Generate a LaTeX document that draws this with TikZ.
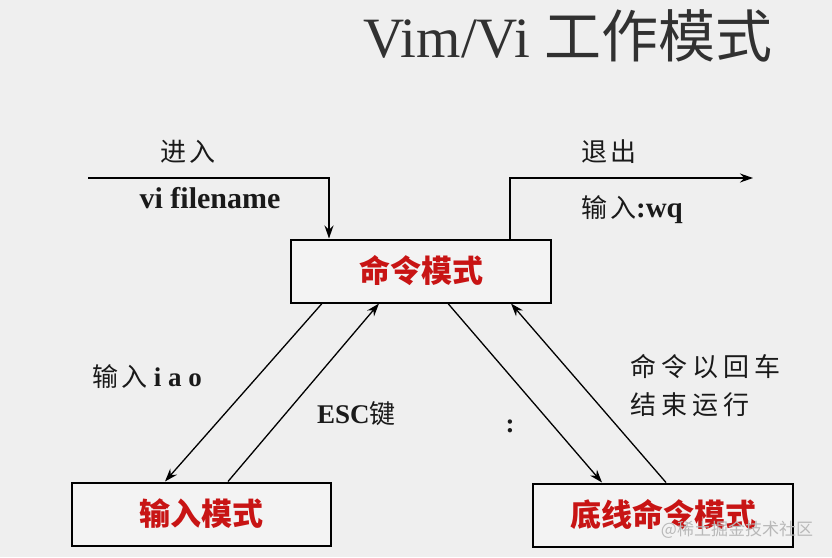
\documentclass[tikz,border=0pt]{standalone}
\usepackage{fontspec}
\setmainfont{Liberation Serif}
\newfontfamily\cjk{Noto Sans CJK SC}
\usetikzlibrary{calc,arrows.meta}
\definecolor{bg}{HTML}{EFEFEF}
\definecolor{boxfill}{HTML}{F3F3F3}
\definecolor{modered}{HTML}{C81414}
\definecolor{ink}{HTML}{1A1A1A}
\tikzset{
  modebox/.style={draw=black, line width=2pt, fill=boxfill, minimum height=63pt, inner sep=0pt, font=\cjk\bfseries\fontsize{31}{31}\selectfont, text=modered},
  conn/.style={line width=1.3pt, -{Stealth[length=13pt,width=9pt]}},
  lbl/.style={text=ink, inner sep=0pt},
}
\begin{document}
\begin{tikzpicture}[x=1pt,y=-1pt]
\useasboundingbox (0,0) rectangle (832,557);
\fill[bg] (0,0) rectangle (832,557);
% title
\node[text=ink!90, inner sep=0pt] (title) at (568,36) {\fontsize{57}{57}\selectfont Vim/Vi {\cjk 工作模式}};
% boxes
\node[modebox, minimum width=260pt] (cmd) at (421,271) {命令模式};
\node[modebox, minimum width=259pt] (inp) at (201.5,514) {输入模式};
\node[modebox, minimum width=260pt] (bot) at (663,515) {底线命令模式};
% enter / exit
\coordinate (enterstart) at (88,178);
\coordinate (exitend) at (753,178);
\draw[conn] (enterstart) -| ($(cmd.north west)+(39,0)$);
\draw[conn] ($(cmd.north west)+(220,0)$) |- (exitend);
\node[lbl] (enter) at (188,152) {\cjk\fontsize{26}{26}\selectfont 进\hspace{4pt}入};
\node[lbl] (vifile) at (210,198) {\bfseries\fontsize{30}{30}\selectfont vi filename};
\node[lbl] (exit) at (609,152) {\cjk\fontsize{26}{26}\selectfont 退\hspace{4pt}出};
\node[lbl] (wq) at (632,210) {{\cjk\fontsize{26}{26}\selectfont 输\hspace{3pt}入}{\bfseries\fontsize{29}{29}\selectfont :wq}};
% diagonal connectors
\draw[conn] ($(cmd.south west)+(32,0)$) -- ($(inp.north west)+(94,0)$);
\draw[conn] ($(inp.north west)+(157,0)$) -- ($(cmd.south west)+(89,0)$);
\draw[conn] ($(cmd.south west)+(158,0)$) -- ($(bot.north west)+(70,0)$);
\draw[conn] ($(bot.north west)+(134,0)$) -- ($(cmd.south west)+(221,0)$);
% labels
\node[lbl, anchor=west] (iao) at (92,377) {{\cjk\fontsize{26}{26}\selectfont 输\hspace{3pt}入}{\bfseries\fontsize{27}{27}\selectfont\ i a o}};
\node[lbl, anchor=west] (esc) at (317,414) {{\bfseries\fontsize{27}{27}\selectfont ESC}{\cjk\fontsize{26}{26}\selectfont 键}};
\node[lbl] (colon) at (510,426) {\bfseries\fontsize{27}{27}\selectfont :};
\node[lbl, anchor=west, align=left, font=\cjk\fontsize{26}{38}\selectfont] (runcmd) at (630,386) {命\hspace{5pt}令\hspace{5pt}以\hspace{5pt}回\hspace{5pt}车\\结\hspace{5pt}束\hspace{5pt}运\hspace{5pt}行};
% watermark
\node[text=gray!55, inner sep=0pt] (wm) at (737,530) {\cjk\fontsize{17}{17}\selectfont @稀土掘金技术社区};
\end{tikzpicture}
\end{document}
